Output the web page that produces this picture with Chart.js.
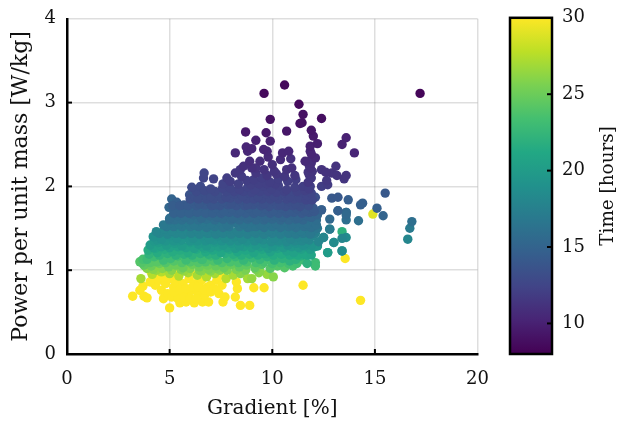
<!DOCTYPE html>
<html><head><meta charset="utf-8">
<style>
html,body{margin:0;padding:0;background:#fff;width:617px;height:428px;overflow:hidden}
canvas{position:absolute;top:-3px;display:block}
#main{left:0}#bar{left:490px}
</style>
<script src="https://cdn.jsdelivr.net/npm/chart.js@4"></script>
</head><body>
<canvas id="main" width="504" height="431"></canvas>
<canvas id="bar" width="127" height="431"></canvas>
<script>
const xTicks=[0,5,10,15,20];
const yTicks=[0,1,2,3,4];
const timeTicks=[10,15,20,25,30];
const timeRange=[8,30];
const xTitle='Gradient [%]',yTitle='Power per unit mass [W/kg]',timeTitle='Time [hours]';
const viridis=['#440154','#482475','#414487','#355f8d','#2a788e','#21918c','#22a884','#44bf70','#7ad151','#bddf26','#fde725'];

const gradient=[
3.2,3.7,3.55,3.75,3.9,4.7,5.0,5.5,5.8,6.2,6.6,6.9,
7.6,8.2,8.45,8.9,9.6,9.1,8.3,11.5,14.3,8.5,12.1,14.9,
4.3,4.6,4.9,5.2,5.5,5.8,6.1,6.4,6.7,7.0,7.4,7.7,
4.5,4.8,5.05,5.35,5.65,5.95,6.25,6.55,6.85,7.3,7.55,8.25,
5.1,5.4,5.7,6.0,6.3,6.6,4.2,4.4,7.15,7.5,5.25,6.05,
5.97,6.62,5.27,9.86,11.47,7.76,5.1,4.5,7.3,6.0,8.6,4.85,
4.65,4.95,5.2,5.5,5.8,6.1,6.4,6.7,7.0,7.3,4.1,4.05,
3.6,4.15,4.6,5.0,5.45,5.9,6.35,6.8,7.2,7.75,8.1,8.8,
9.0,9.35,9.75,10.05,4.35,5.7,6.55,7.45,8.45,3.9,3.8,7.0,
4.2,4.65,5.1,5.55,6.0,6.45,6.9,7.3,7.8,8.25,8.7,9.2,
4.1,4.5,4.95,5.3,5.65,6.1,6.45,6.85,7.25,7.65,8.0,8.4,
8.75,9.15,9.5,9.9,10.25,10.6,11.0,3.65,3.55,12.1,12.1,11.7,
4.05,4.4,4.8,5.2,5.6,6.0,6.4,6.75,7.15,7.55,7.95,8.35,
8.75,9.2,9.6,10.0,10.4,10.8,11.2,3.75,3.7,11.55,9.4,6.55,
3.9,4.25,4.7,5.05,5.4,5.8,6.2,6.6,7.0,7.35,7.8,8.2,
8.6,9.0,9.4,9.75,10.1,10.5,10.85,11.15,11.4,11.0,10.4,9.6,
4.0,4.5,4.9,5.3,5.7,6.1,6.5,6.9,7.25,7.7,8.1,8.5,
8.9,9.3,9.7,10.05,10.45,10.85,11.25,11.55,11.7,11.9,4.3,6.7,
3.95,4.4,4.75,5.15,5.5,5.9,6.3,6.75,7.1,7.5,7.9,8.3,
8.7,9.1,9.5,9.9,10.25,10.7,11.05,11.4,11.85,12.05,12.2,12.7,
4.2,4.6,5.0,5.4,5.8,6.2,6.6,7.0,7.4,7.8,8.2,8.6,
9.0,9.4,9.8,10.15,10.55,10.95,11.3,11.6,11.9,4.25,5.45,7.25,
4.05,4.45,4.85,5.25,5.6,6.0,6.4,6.8,7.2,7.6,8.0,8.4,
8.8,9.2,9.6,10.0,10.35,10.75,11.15,11.5,11.7,13.0,13.4,13.6,
4.4,4.8,5.2,5.6,6.0,6.35,6.75,7.15,7.55,7.95,8.35,8.75,
9.15,9.55,9.95,10.3,10.7,11.1,11.45,11.8,12.1,12.25,6.9,8.0,
4.2,4.6,5.0,5.35,5.75,6.15,6.55,6.95,7.35,7.7,8.15,8.55,
8.95,9.35,9.7,10.1,10.5,10.9,11.25,11.6,11.95,12.5,13.4,16.6,
4.5,4.9,5.3,5.65,6.05,6.45,6.85,7.25,7.6,8.0,8.4,8.8,
9.2,9.6,10.0,10.4,10.8,11.15,11.5,11.85,12.2,5.2,7.9,9.0,
4.35,4.75,5.1,5.5,5.9,6.3,6.7,7.1,7.5,7.9,8.3,8.7,
9.1,9.5,9.85,10.25,10.65,11.0,11.4,11.75,12.0,12.8,16.7,13.4,
4.85,5.6,6.0,6.4,6.8,7.2,7.6,8.4,8.8,9.2,9.6,10.0,
10.4,10.8,11.15,11.55,11.9,12.15,5.0,5.25,5.6,6.0,6.4,6.8,
4.7,5.05,5.45,5.8,6.2,6.6,7.0,7.4,7.8,8.2,8.6,9.0,
9.4,9.8,10.2,10.6,10.95,11.35,11.7,12.0,12.15,14.2,13.6,16.8,
7.2,7.6,8.0,8.4,8.8,9.2,9.6,10.0,10.4,10.8,11.15,11.5,
5.0,5.4,5.75,6.15,6.55,6.95,7.3,7.7,8.1,8.5,8.9,9.3,
9.7,10.1,10.5,10.9,11.25,11.65,11.9,12.2,12.8,13.6,13.6,15.4,
5.2,5.55,5.95,6.35,6.75,7.1,7.5,7.9,8.3,8.7,9.1,9.5,
9.9,10.3,10.7,11.05,11.45,11.8,12.05,5.15,5.5,5.9,6.3,6.7,
4.97,5.3,5.7,6.1,6.5,6.9,7.25,7.65,8.05,8.45,8.85,9.25,
9.65,10.05,10.45,10.85,11.2,11.6,12.0,12.4,13.2,15.1,14.3,14.4,
7.05,7.45,7.85,8.25,8.65,9.05,9.45,9.85,10.25,10.65,11.0,11.35,
5.1,5.35,5.7,6.05,6.45,6.85,7.2,7.6,8.0,8.4,8.8,9.2,
9.6,10.0,10.4,10.8,11.15,11.5,11.77,12.1,13.7,12.9,13.2,15.5,
6.0,6.4,6.8,7.15,7.55,7.95,8.35,8.75,9.1,9.5,9.9,10.3,
10.7,11.05,11.35,11.65,11.95,6.3,6.7,7.2,7.75,8.15,8.6,9.0,
5.97,6.25,6.6,7.0,7.35,7.75,8.15,8.55,8.9,9.3,9.7,10.1,
10.5,10.85,11.04,11.4,11.7,11.9,6.08,6.5,7.58,7.0,7.95,8.4,
9.4,9.8,10.2,10.6,11.2,11.6,11.85,8.35,8.95,9.35,9.75,10.15,
8.8,9.15,9.55,9.95,10.3,10.7,11.1,11.5,11.8,6.65,7.14,7.79,
7.95,8.2,8.44,8.75,9.1,9.5,9.9,10.3,10.75,11.15,11.75,11.9,
6.68,7.6,8.5,9.2,9.75,10.2,10.6,11.1,11.75,11.85,11.9,11.8,
10.6,9.6,11.3,17.2,11.5,11.45,11.35,12.4,9.9,8.7,9.7,10.7,
11.9,12.0,9.2,9.9,13.6,13.4,14.0,12.2,8.73,9.0,8.8,8.2,
9.58,9.75,9.8,10.5,10.8,10.4,10.9,11.85,11.9,12.1,11.6,8.9,
9.4,9.0,10.0,10.95,13.1,12.9,13.15,13.6,13.5,12.4,12.6,12.65,
12.7,12.4,11.85,11.9,11.8,11.95,11.85,9.2,9.6,10.1,10.7,8.6,
12.4,13.2,13.6,12.8,12.5,13.0,12.2,12.05,11.85,12.7,13.4,13.55
];
const power=[
.69,.81,.76,.69,.67,.66,.55,.61,.62,.61,.62,.62,
.62,.68,.58,.58,.79,.79,.78,.82,.64,.98,1.65,1.67,
.82,.76,.72,.8,.74,.7,.76,.72,.7,.82,.72,.68,
.88,.84,.9,.86,.84,.9,.84,.88,.8,.88,.82,.86,
.68,.66,.68,.66,.66,.78,.92,.9,.78,.94,.96,.96,
1.52,1.25,.97,1.29,1.67,1.63,1.12,1.05,1.4,1.08,1.15,1.03,
.92,.94,.74,.77,.78,.8,.8,.76,.74,.76,.98,.86,
.9,.95,.98,.96,.93,.97,.94,.92,.96,.9,.94,.9,
.9,.97,.95,.92,1.0,.99,.99,1.0,.96,1.02,1.05,.99,
1.01,1.02,1.0,1.01,1.02,1.0,1.01,1.02,1.0,1.01,1.0,1.01,
1.05,1.08,1.04,1.06,1.03,1.07,1.04,1.06,1.05,1.03,1.07,1.04,
1.06,1.03,1.07,1.02,1.05,1.03,1.05,1.09,1.1,1.09,1.05,1.08,
1.09,1.1,1.09,1.11,1.09,1.1,1.09,1.1,1.11,1.09,1.1,1.09,
1.1,1.09,1.1,1.08,1.09,1.08,1.08,1.06,1.13,1.12,.99,1.13,
1.13,1.16,1.12,1.14,1.17,1.12,1.15,1.13,1.17,1.12,1.14,1.16,
1.12,1.15,1.13,1.16,1.12,1.14,1.11,1.13,1.17,1.19,1.2,1.2,
1.19,1.18,1.2,1.18,1.19,1.18,1.2,1.19,1.18,1.2,1.19,1.18,
1.19,1.18,1.2,1.18,1.19,1.18,1.18,1.19,1.18,1.18,1.26,1.26,
1.24,1.21,1.25,1.22,1.24,1.21,1.25,1.22,1.24,1.21,1.25,1.22,
1.24,1.21,1.25,1.22,1.26,1.23,1.21,1.25,1.25,1.28,1.29,1.21,
1.27,1.28,1.27,1.28,1.27,1.26,1.28,1.27,1.28,1.27,1.26,1.28,
1.27,1.28,1.26,1.28,1.27,1.28,1.27,1.29,1.3,1.35,1.35,1.35,
1.3,1.33,1.3,1.32,1.29,1.33,1.31,1.29,1.33,1.3,1.32,1.29,
1.33,1.3,1.32,1.29,1.33,1.3,1.32,1.3,1.33,1.33,1.23,1.39,
1.36,1.35,1.35,1.36,1.35,1.35,1.35,1.36,1.35,1.35,1.35,1.35,
1.35,1.36,1.34,1.35,1.34,1.35,1.35,1.36,1.44,1.34,1.44,1.44,
1.4,1.37,1.41,1.38,1.42,1.38,1.41,1.37,1.41,1.38,1.4,1.37,
1.41,1.38,1.42,1.38,1.41,1.37,1.4,1.38,1.41,1.39,1.38,1.37,
1.44,1.43,1.44,1.43,1.44,1.43,1.44,1.43,1.44,1.43,1.44,1.43,
1.44,1.43,1.44,1.43,1.44,1.43,1.44,1.43,1.5,1.52,1.52,1.52,
1.46,1.49,1.47,1.5,1.46,1.49,1.47,1.5,1.46,1.49,1.47,1.5,
1.46,1.49,1.47,1.5,1.46,1.49,1.47,1.5,1.46,1.49,1.5,1.46,
1.52,1.52,1.52,1.52,1.51,1.52,1.51,1.52,1.51,1.52,1.51,1.52,
1.51,1.52,1.51,1.52,1.51,1.6,1.6,1.6,1.6,1.6,1.6,1.61,
1.54,1.57,1.55,1.58,1.54,1.57,1.55,1.58,1.54,1.57,1.55,1.58,
1.54,1.57,1.55,1.58,1.54,1.57,1.55,1.58,1.54,1.59,1.6,1.58,
1.6,1.61,1.6,1.6,1.61,1.6,1.6,1.61,1.6,1.6,1.61,1.6,
1.62,1.65,1.63,1.66,1.62,1.65,1.63,1.66,1.62,1.65,1.63,1.66,
1.62,1.65,1.63,1.66,1.62,1.65,1.63,1.66,1.61,1.69,1.66,1.65,
1.68,1.68,1.68,1.69,1.68,1.68,1.68,1.69,1.68,1.68,1.68,1.69,
1.68,1.68,1.68,1.69,1.68,1.69,1.7,1.77,1.77,1.77,1.77,1.78,
1.75,1.71,1.74,1.7,1.73,1.71,1.74,1.7,1.73,1.71,1.74,1.7,
1.73,1.71,1.74,1.7,1.73,1.71,1.74,1.72,1.71,1.74,1.78,1.8,
1.77,1.77,1.78,1.77,1.77,1.78,1.77,1.76,1.77,1.76,1.77,1.76,
1.85,1.81,1.78,1.82,1.79,1.83,1.78,1.82,1.79,1.83,1.78,1.82,
1.79,1.83,1.78,1.82,1.79,1.83,1.77,1.87,1.84,1.86,1.87,1.92,
1.85,1.85,1.85,1.85,1.85,1.86,1.85,1.85,1.85,1.85,1.85,1.85,
1.85,1.85,1.86,1.84,1.84,1.94,1.95,1.94,1.94,1.94,1.94,1.93,
1.9,1.87,1.91,1.88,1.92,1.87,1.91,1.88,1.92,1.87,1.91,1.88,
1.92,1.87,1.94,1.93,1.89,1.92,1.99,2.0,1.98,1.97,1.98,1.96,
1.94,1.94,1.93,1.94,1.94,1.95,2.0,2.03,2.02,2.03,2.03,2.03,
1.99,1.96,2.0,1.97,2.01,1.96,1.99,2.0,1.97,2.1,2.09,2.1,
2.06,2.16,2.2,2.07,2.08,2.1,2.05,2.09,2.06,2.08,2.05,2.1,
2.16,2.03,2.12,2.16,2.13,2.15,2.12,2.13,2.17,2.22,2.28,2.14,
3.21,3.11,2.98,3.11,2.86,2.76,2.75,2.81,2.8,2.65,2.64,2.66,
2.67,2.6,2.55,2.54,2.58,2.5,2.4,2.51,2.47,2.45,2.42,2.4,
2.44,2.42,2.35,2.4,2.42,2.32,2.33,2.48,2.39,2.34,2.3,2.3,
2.3,2.22,2.26,2.22,2.24,2.16,2.13,2.13,2.09,2.2,2.17,2.07,
2.02,2.0,2.42,2.32,2.25,2.18,2.12,2.22,2.2,2.18,2.2,2.24,
1.72,1.71,1.69,1.49,1.39,1.33,1.29,1.28,1.25,1.21,1.23,1.14
];
const time=[
30,30,30,30,30,30,30,30,30,30,30,30,
30,30,30,30,30,30,30,30,30,29.5,29.5,29,
30,30,30,30,30,30,30,30,30,30,30,30,
30,30,30,30,30,30,30,30,30,30,30,30,
30,30,30,30,30,30,30,30,30,30,30,30,
30,29.5,30,29.5,30,29,30,29.5,30,30,29.5,30,
30,30,30,30,30,30,30,30,30,30,30,30,
27,27.5,27.5,27,27.5,27,27,27.5,27,27.5,27,27,
26.5,26,26.5,26,26.5,26.5,26,26,26,26,26,26,
26,26,26,25.8,25.8,25.8,25.6,25.6,25.6,25.5,25.5,25.5,
25,25,25,25,25,25,25,25,24.8,24.8,24.8,24.5,
24.5,24.5,24,24,24,24,23.5,24,24,23,23,22,
24.2,24.2,24,24,24,24,24,23.8,23.8,23.8,23.6,23.6,
23.6,23.5,23.5,23.4,23.4,23.3,23.2,24.5,23.5,23,26,23.2,
23,23,23,23,23,23,23,23,22.8,22.8,22.5,22.5,
22.5,22.5,22.5,22,22,22,22,22,21.8,21.5,21.5,21.5,
22.2,22.2,22,22,22,22,22,22,21.8,21.8,21.8,21.6,
21.6,21.5,21.5,21.4,21.4,21.2,21.2,21,21,20.8,21,20.8,
21.5,21.5,21.5,21.5,21.5,21.5,21.3,21.3,21,21,21,21,
21,20.8,20.8,20.5,20.5,20.5,20.5,20.3,20,19.5,19.5,20,
20.5,20.5,20.5,20.5,20.4,20.4,20.4,20.2,20.2,20.2,20,20,
20,20,19.8,19.8,19.8,19.6,19.6,19.4,19.2,19.6,19.6,19.5,
20,20,20,20,20,20,19.8,19.8,19.8,19.8,19.6,19.6,
19.5,19.5,19.3,19.3,19.2,19,19,19,19,18.5,18.5,18.5,
19.3,19.3,19.3,19.3,19.2,19.2,19,19,19,18.8,18.8,18.8,
18.6,18.6,18.5,18.5,18.3,18.3,18.2,18,17.5,18,18,18,
19,19,19,19,19,18.8,18.8,18.8,18.6,18.6,18.5,18.5,
18.5,18.3,18.3,18.3,18.2,18,18,18,18,18,18,18,
18,18,18,18,17.8,17.8,17.8,17.6,17.6,17.6,17.5,17.5,
17.4,17.4,17.3,17.2,17,17,17,16.8,16.6,16.8,16.6,16.6,
18,18,18,18,18,17.8,17.8,17.6,17.6,17.5,17.5,17.5,
17.4,17.4,17.3,17.2,17.2,17,17,17,17,17,17,22,
16.8,16.8,16.8,16.6,16.6,16.6,16.5,16.5,16.4,16.4,16.3,16.3,
16.2,16.2,16.1,16,16,15.8,16,16,16,16,16,16,
16.8,16.8,16.8,16.8,16.6,16.6,16.6,16.5,16.4,16.4,16.3,16.3,
16.2,16.2,16.1,16.1,16,16,16,16,16,16,16,16,
15.8,15.6,15.6,15.6,15.5,15.5,15.4,15.4,15.3,15.3,15.2,15.2,
15.8,15.8,15.8,15.6,15.6,15.5,15.5,15.4,15.4,15.3,15.3,15.2,
15.2,15.1,15,15,15,15,15,15,15.5,15.5,15.5,15,
14.8,14.8,14.8,14.7,14.7,14.6,14.6,14.6,14.5,14.5,14.4,14.4,
14.3,14.3,14.2,14.2,14.1,14,14,14.4,14.2,14.2,14.2,14.1,
15.2,15,15,15,14.8,14.8,14.6,14.6,14.5,14.5,14.4,14.4,
14.3,14.3,14.2,14.2,14,14,14,14.5,14.6,14.6,14.6,14.6,
13.8,13.8,13.8,13.7,13.7,13.6,13.6,13.5,13.5,13.4,13.4,13.3,
15,14.6,14.3,14.2,14,14,13.8,13.8,13.6,13.6,13.5,13.5,
13.4,13.4,13.4,13.3,13.3,13.2,13.4,13.3,14.5,14,14,14,
13.4,13.3,13.3,13.2,13.2,13.1,13.1,13,13,12.9,12.9,12.9,
12.8,12.8,12.7,12.6,12.6,13,12.9,12.8,12.7,12.6,12.6,12.6,
13.6,13.4,13.4,13.2,13.2,13,13,13,12.9,12.9,12.8,12.8,
12.8,12.7,12.7,12.6,12.6,12.5,13,13,12.6,12.8,12.5,12.4,
12.5,12.4,12.4,12.3,12.3,12.2,12,12.2,12.2,12.1,12.1,12,
12.4,12.4,12.3,12.3,12.2,12.2,12.2,12,12,12.6,12.4,12,
12,11.5,11.5,12,12,12,12,12,12,12,11.5,11.5,
12.6,12.4,11.8,11.5,11.5,11.5,11.5,11.4,11.3,11,10.8,11.4,
8.5,8.5,8.5,8.3,9,9,9,8.8,9,9.5,9.5,9.3,
9.3,9.5,10,10,10,10,10.3,9.8,10.3,10.3,10.5,10.5,
10.3,10.5,10.6,10.4,10.4,10.7,11,10,10.3,10.5,10.6,10.8,
10.8,11,11,11,11.2,11.3,11.3,11.3,11.4,11.2,11.2,11.6,
11.8,12,10.5,10.8,11,11.3,11.5,11.2,11.3,11.4,11.2,11,
15.5,15.5,15.6,17.5,19,19.2,20,20,20.5,20.5,20.5,30
];

function cmap(t){
  const f=Math.max(0,Math.min(1,(t-timeRange[0])/(timeRange[1]-timeRange[0])))*(viridis.length-1);
  const i=Math.min(Math.floor(f),viridis.length-2),k=f-i;
  const rgb=h=>[1,3,5].map(p=>parseInt(h.substr(p,2),16));
  const a=rgb(viridis[i]),b=rgb(viridis[i+1]);
  return 'rgb('+a.map((v,j)=>Math.round(v+(b[j]-v)*k)).join(',')+')';
}
const order=gradient.map((_,i)=>i).sort((a,b)=>time[b]-time[a]);
const points=order.map(i=>({x:gradient[i],y:power[i]}));
const colors=order.map(i=>cmap(time[i]));

const FONT='"DejaVu Serif"';
const tickFont={family:FONT,size:18};
const INK='#000';

const innerTicks={id:'innerTicks',afterDatasetsDraw(c){
  const g=c.ctx,a=c.chartArea;
  g.save();g.strokeStyle=INK;g.lineWidth=2;
  xTicks.slice(1,-1).forEach(v=>{const p=c.scales.x.getPixelForValue(v);
    g.beginPath();g.moveTo(p,a.bottom);g.lineTo(p,a.bottom-5);g.stroke();});
  yTicks.slice(1,-1).forEach(v=>{const p=c.scales.y.getPixelForValue(v);
    g.beginPath();g.moveTo(a.left,p);g.lineTo(a.left+5,p);g.stroke();});
  g.restore();
}};

new Chart(document.getElementById('main'),{
  type:'scatter',
  data:{datasets:[{data:points,pointBackgroundColor:colors,pointBorderWidth:0,pointRadius:4.7,pointHoverRadius:4.7}]},
  plugins:[innerTicks],
  options:{
    responsive:false,animation:false,
    layout:{padding:{top:8,right:7,left:0,bottom:0}},
    plugins:{legend:{display:false},tooltip:{enabled:false}},
    scales:{
      x:{type:'linear',min:0,max:20,
        afterBuildTicks(s){s.ticks=xTicks.map(v=>({value:v}));},
        afterFit(s){s.height=74;},
        grid:{color:'rgba(0,0,0,0.13)',lineWidth:1.5,drawTicks:false},
        border:{display:true,color:INK,width:2.5},
        ticks:{font:tickFont,color:'#111',padding:15,maxRotation:0},
        title:{display:true,text:xTitle,font:{family:FONT,size:20},color:'#111',padding:{top:4,bottom:7}}},
      y:{type:'linear',min:0,max:4,
        afterBuildTicks(s){s.ticks=yTicks.map(v=>({value:v}));},
        afterFit(s){s.width=67;},
        grid:{color:'rgba(0,0,0,0.13)',lineWidth:1.5,drawTicks:false},
        border:{display:true,color:INK,width:2.5},
        ticks:{font:tickFont,color:'#111',padding:11},
        title:{display:true,text:yTitle,font:{family:FONT,size:22},color:'#111',padding:{top:8,bottom:2}}}
    }
  }
});

const barFrame={id:'barFrame',afterDatasetsDraw(c){
  const g=c.ctx,a=c.chartArea;
  g.save();g.strokeStyle=INK;g.lineWidth=2.5;
  g.strokeRect(a.left,a.top,a.right-a.left,a.bottom-a.top);
  g.lineWidth=2;
  timeTicks.slice(0,-1).forEach(v=>{const p=c.scales.y.getPixelForValue(v);
    g.beginPath();g.moveTo(a.right,p);g.lineTo(a.right-5,p);g.stroke();});
  g.font='18.4px '+FONT;g.fillStyle='#111';g.textAlign='center';g.textBaseline='middle';
  g.translate(118,(a.top+a.bottom)/2);g.rotate(-Math.PI/2);
  g.fillText(timeTitle,0,0);
  g.restore();
}};

new Chart(document.getElementById('bar'),{
  type:'bar',
  data:{labels:['t'],datasets:[{data:[timeRange],barPercentage:1,categoryPercentage:1,
    backgroundColor(ctx){
      const a=ctx.chart.chartArea; if(!a) return viridis[5];
      const gr=ctx.chart.ctx.createLinearGradient(0,a.bottom,0,a.top);
      viridis.forEach((c,i)=>gr.addColorStop(i/(viridis.length-1),c));
      return gr;
    }}]},
  plugins:[barFrame],
  options:{
    responsive:false,animation:false,
    layout:{padding:{top:8,left:20,right:0,bottom:74}},
    plugins:{legend:{display:false},tooltip:{enabled:false}},
    scales:{
      x:{display:false},
      y:{type:'linear',position:'right',min:timeRange[0],max:timeRange[1],
        afterBuildTicks(s){s.ticks=timeTicks.map(v=>({value:v}));},
        afterFit(s){s.width=65;},
        grid:{display:false,drawTicks:false},
        border:{display:false},
        ticks:{font:tickFont,color:'#111',padding:10}}
    }
  }
});
</script>
</body></html>
